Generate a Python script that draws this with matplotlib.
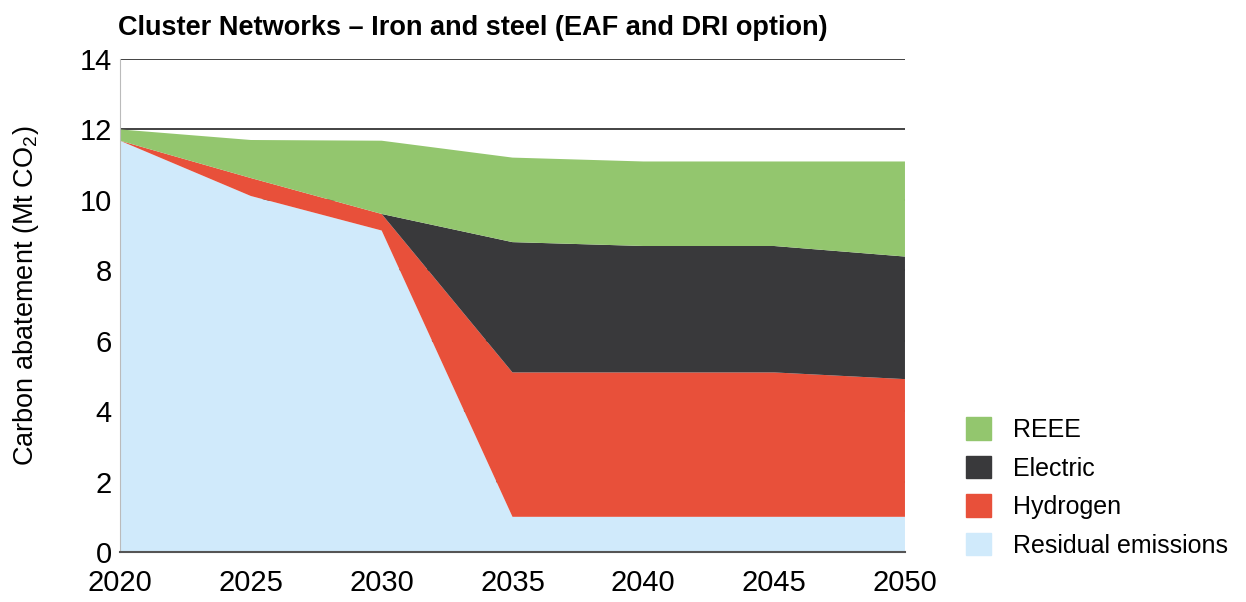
import matplotlib.pyplot as plt
from matplotlib.patches import Patch

plt.rcParams['font.family'] = ['Liberation Sans', 'DejaVu Sans']
plt.rcParams['mathtext.fontset'] = 'custom'
plt.rcParams['mathtext.rm'] = 'Liberation Sans'

years = [2020, 2025, 2030, 2035, 2040, 2045, 2050]
residual = [11.68, 10.11, 9.13, 1.0, 1.0, 1.0, 1.0]
hydrogen = [0.0, 0.51, 0.47, 4.10, 4.10, 4.10, 3.91]
electric = [0.0, 0.0, 0.0, 3.70, 3.59, 3.59, 3.48]
reee = [0.32, 1.08, 2.08, 2.40, 2.40, 2.40, 2.70]

names = ['Residual emissions', 'Hydrogen', 'Electric', 'REEE']
colours = ['#d0eafb', '#e8503a', '#39393b', '#93c66e']

fig = plt.figure(figsize=(12.46, 6.02), dpi=100)
ax = fig.add_axes([0.0963, 0.083, 0.63, 0.819])

ax.stackplot(years, residual, hydrogen, electric, reee, colors=colours,
             linewidth=0, zorder=2)

ax.set_xlim(2020, 2050)
ax.set_ylim(0, 14)
ax.set_xticks(years)
ax.set_yticks(range(0, 15, 2))
ax.grid(axis='y', color='#222222', linewidth=1.2, zorder=1)
ax.set_axisbelow(True)
for s in ['top', 'right']:
    ax.spines[s].set_visible(False)
ax.spines['left'].set_color('#bbbbbb')
ax.spines['bottom'].set_color('#555555')
ax.spines['bottom'].set_linewidth(1.5)
ax.spines['bottom'].set_zorder(5)
ax.tick_params(length=0, labelsize=21, pad=6)
ax.tick_params(axis='x', pad=12)

ax.set_ylabel(r'Carbon abatement (Mt CO$_2$)', fontsize=19.5)
ax.yaxis.set_label_coords(-0.1, 0.52)
fig.text(0.0947, 0.953, 'Cluster Networks \u2013 Iron and steel (EAF and DRI option)',
         fontsize=19.5, fontweight='bold', va='center', ha='left')

handles = [Patch(color=c, label=n) for c, n in zip(colours, names)][::-1]
fig.legend(handles=handles, loc='center left', bbox_to_anchor=(0.767, 0.19),
           frameon=False, fontsize=18, handlelength=1.0, handleheight=1.0,
           handletextpad=0.9, labelspacing=0.55, borderaxespad=0)

fig.savefig('out.png', dpi=100)
